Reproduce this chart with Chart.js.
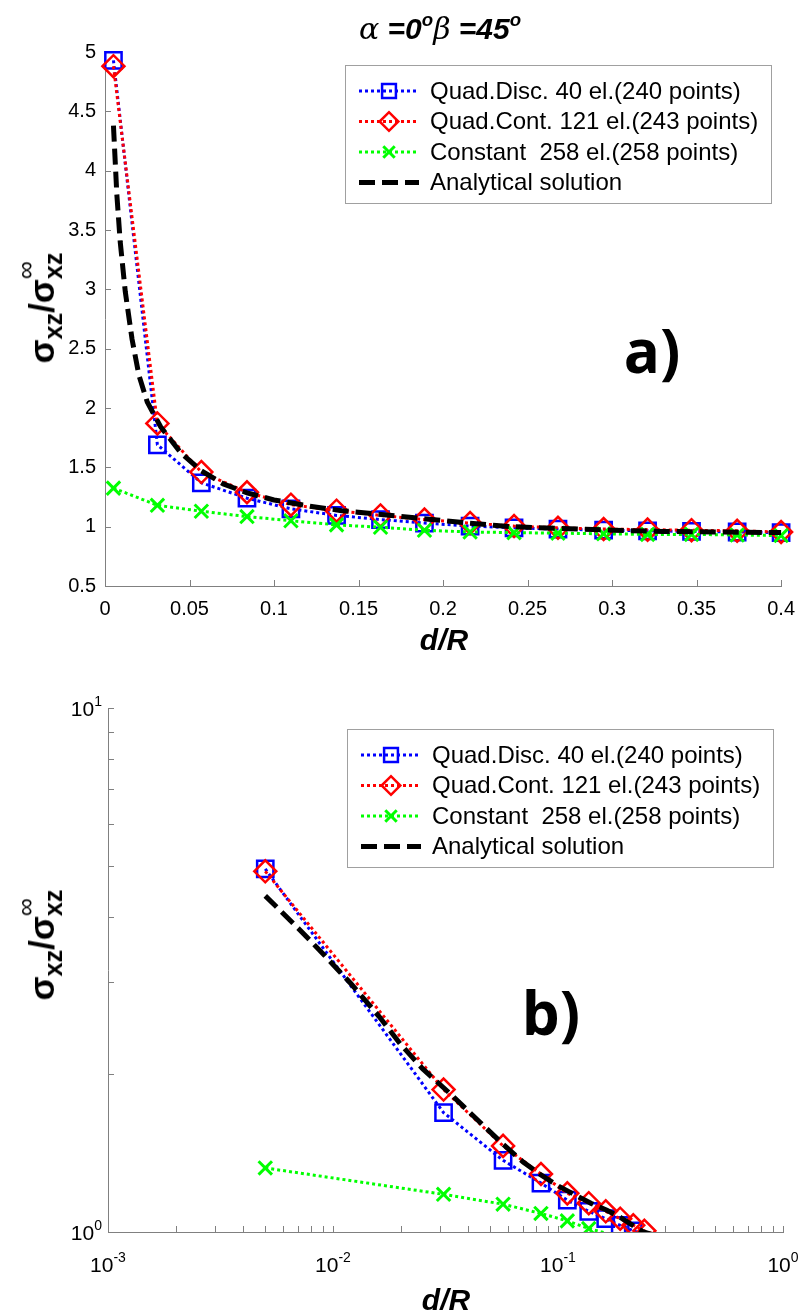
<!DOCTYPE html>
<html>
<head>
<meta charset="utf-8">
<script src="https://cdn.jsdelivr.net/npm/chart.js@4.4.1/dist/chart.umd.min.js"></script>
<style>
  body { margin: 0; background: #fff; }
  #page { position: relative; width: 806px; height: 1316px; overflow: hidden; font-family: "Liberation Sans", Arial, sans-serif; }
  canvas { position: absolute; left: 0; }
  #chartTop { top: 0; }
  #chartLog { top: 660px; }
  .txt { position: absolute; white-space: nowrap; color: #000; line-height: 1; }
  .title { left: 359px; top: 11px; font: italic bold 30px "Liberation Sans", Arial, sans-serif; }
  .title .gr { font-family: "DejaVu Serif", serif; font-weight: normal; }
  .title sup { font-size: 0.62em; vertical-align: 0.7em; line-height: 0; }
  .xlab { font: italic bold 30px "Liberation Sans", Arial, sans-serif; transform: translate(-50%, -50%); }
  .ylab { font: bold 35px "Liberation Sans", Arial, sans-serif; transform: translate(-50%, -50%) rotate(-90deg); }
  .ylab .sd { font-size: 0.72em; position: relative; top: 0.3em; }
  .ylab .sp { font-size: 0.72em; position: relative; top: 0.3em; }
  .ylab .inf { position: absolute; left: 0; top: -1.1em; font-weight: normal; }
  .panel { font: bold 60px "Open Sans", sans-serif; transform: translate(-50%, -50%); }
</style>
</head>
<body>
<div id="page">
  <canvas id="chartTop" width="806" height="660"></canvas>
  <canvas id="chartLog" width="806" height="656"></canvas>

  <div class="txt title"><span class="gr">α</span> =0<sup>o</sup><span class="gr">β</span> =45<sup>o</sup></div>
  <div class="txt ylab" style="left:42px; top:308px;">σ<span class="sd">xz</span>/σ<span class="sp"><span class="inf">∞</span>xz</span></div>
  <div class="txt panel" style="left:652px; top:350px;">a)</div>
  <div class="txt xlab" style="left:444px; top:640px;">d/R</div>

  <div class="txt ylab" style="left:42px; top:945px;">σ<span class="sd">xz</span>/σ<span class="sp"><span class="inf">∞</span>xz</span></div>
  <div class="txt panel" style="left:551px; top:1012px;">b)</div>
  <div class="txt xlab" style="left:446px; top:1300px;">d/R</div>
</div>

<script>
// d/R positions of the numerical solutions
const dR = [0.005, 0.031, 0.057, 0.084, 0.110, 0.137, 0.163, 0.189, 0.216, 0.242, 0.268, 0.295, 0.321, 0.347, 0.374, 0.400];
const quadDisc = [4.93, 1.69, 1.37, 1.24, 1.15, 1.095, 1.06, 1.03, 1.005, 0.99, 0.98, 0.97, 0.965, 0.96, 0.955, 0.95];
const quadCont = [4.88, 1.87, 1.46, 1.29, 1.185, 1.135, 1.095, 1.06, 1.03, 1.005, 0.99, 0.98, 0.975, 0.97, 0.965, 0.955];
const constant = [1.325, 1.18, 1.13, 1.085, 1.05, 1.015, 0.995, 0.97, 0.955, 0.95, 0.945, 0.94, 0.935, 0.935, 0.93, 0.925];

// analytical curve
const dRExact = [0.005, 0.007, 0.009, 0.012, 0.016, 0.02, 0.025, 0.033, 0.045, 0.057, 0.07, 0.084, 0.1, 0.12, 0.14, 0.165, 0.19, 0.215, 0.24, 0.27, 0.3, 0.33, 0.36, 0.4];
const exact = [4.38, 3.8, 3.4, 2.98, 2.58, 2.28, 2.05, 1.84, 1.62, 1.47, 1.36, 1.285, 1.225, 1.175, 1.135, 1.1, 1.065, 1.03, 1.0, 0.985, 0.97, 0.96, 0.955, 0.95];

const seriesNames = ['Quad.Disc. 40 el.(240 points)', 'Quad.Cont. 121 el.(243 points)', 'Constant  258 el.(258 points)', 'Analytical solution'];

// ticks
const linXTicks = [0, 0.05, 0.1, 0.15, 0.2, 0.25, 0.3, 0.35, 0.4];
const linYTicks = [0.5, 1, 1.5, 2, 2.5, 3, 3.5, 4, 4.5, 5];
const logXTicks = [0.001, 0.01, 0.1, 1];
const logXExp = ['-3', '-2', '-1', '0'];
const logYTicks = [1, 10];
const logYExp = ['0', '1'];
const logMinor = [2, 3, 4, 5, 6, 7, 8, 9];

const fontFamily = '"Liberation Sans", Arial, Helvetica, sans-serif';
const axisColor = '#808080';
const fmt = v => String(Math.round(v * 100) / 100);

function withMinor(decades) {
    const out = [];
    decades.forEach((d, i) => {
        out.push(d);
        if (i < decades.length - 1) logMinor.forEach(m => out.push(d * m));
    });
    return out;
}

const styles = [
    { color: '#0000ff', dash: [3, 3], width: 3, marker: 'rect', radius: 11.5, mWidth: 2.5, order: 3 },
    { color: '#ff0000', dash: [3, 3], width: 3, marker: 'rectRot', radius: 11, mWidth: 2.5, order: 2 },
    { color: '#00ff00', dash: [3, 3], width: 3, marker: 'crossRot', radius: 9.5, mWidth: 3, order: 1 },
    { color: '#000000', dash: [16, 7], width: 5, marker: false, radius: 0, mWidth: 0, order: 0 }
];

function buildDatasets(isLog) {
    const pts = (xs, ys) => xs.map((x, i) => ({ x: x, y: ys[i] }));
    const series = [pts(dR, quadDisc), pts(dR, quadCont), pts(dR, constant), pts(dRExact, exact)];
    return series.map((data, i) => {
        const s = styles[i];
        return {
            label: seriesNames[i],
            data: data,
            showLine: true,
            borderColor: s.color,
            borderWidth: s.width,
            borderDash: s.dash,
            borderCapStyle: 'butt',
            pointStyle: s.marker || 'circle',
            pointRadius: isLog ? (ctx => (ctx.raw && ctx.raw.y < 1 ? 0 : s.radius)) : s.radius,
            pointBorderWidth: s.mWidth,
            pointBorderColor: s.color,
            pointBackgroundColor: 'rgba(0,0,0,0)',
            clip: isLog ? undefined : false,
            order: s.order
        };
    });
}

// MATLAB style inward tick marks
const inwardTicks = {
    id: 'inwardTicks',
    beforeDatasetsDraw(chart, args, o) {
        const { ctx, chartArea: a, scales } = chart;
        ctx.save();
        ctx.strokeStyle = axisColor;
        ctx.lineWidth = 1;
        ctx.beginPath();
        o.x.forEach(v => {
            const px = Math.round(scales.x.getPixelForValue(v)) + 0.5;
            ctx.moveTo(px, a.bottom);
            ctx.lineTo(px, a.bottom - o.len);
        });
        o.y.forEach(v => {
            const py = Math.round(scales.y.getPixelForValue(v)) + 0.5;
            ctx.moveTo(a.left, py);
            ctx.lineTo(a.left + o.len, py);
        });
        ctx.stroke();
        ctx.restore();
    }
};

// 10^n tick labels for the log axes
const powerLabels = {
    id: 'powerLabels',
    afterDraw(chart, args, o) {
        if (!o.enabled) return;
        const { ctx, chartArea: a, scales } = chart;
        const base = '21px ' + fontFamily;
        const sup = '14px ' + fontFamily;
        ctx.save();
        ctx.fillStyle = '#000';
        ctx.textBaseline = 'alphabetic';
        ctx.textAlign = 'left';
        logXTicks.forEach((v, i) => {
            const px = scales.x.getPixelForValue(v);
            ctx.font = base;
            const w1 = ctx.measureText('10').width;
            ctx.font = sup;
            const w2 = ctx.measureText(logXExp[i]).width;
            const x0 = px - (w1 + w2) / 2;
            ctx.font = base;
            ctx.fillText('10', x0, a.bottom + 40);
            ctx.font = sup;
            ctx.fillText(logXExp[i], x0 + w1, a.bottom + 30);
        });
        logYTicks.forEach((v, i) => {
            const py = scales.y.getPixelForValue(v);
            ctx.font = sup;
            const w2 = ctx.measureText(logYExp[i]).width;
            ctx.font = base;
            const w1 = ctx.measureText('10').width;
            const x1 = a.left - 6;
            ctx.fillText('10', x1 - w2 - w1, py + 8);
            ctx.font = sup;
            ctx.fillText(logYExp[i], x1 - w2, py - 2);
        });
        ctx.restore();
    }
};

// MATLAB style legend: line sample with marker
const legendBox = {
    id: 'legendBox',
    afterDraw(chart, args, o) {
        const { ctx, chartArea: a } = chart;
        const w = 426, h = 138;
        const x0 = Math.round(a.right - o.right - w), y0 = Math.round(a.top + o.top);
        ctx.save();
        ctx.fillStyle = '#fff';
        ctx.fillRect(x0, y0, w, h);
        ctx.strokeStyle = '#a0a0a0';
        ctx.lineWidth = 1;
        ctx.strokeRect(x0 + 0.5, y0 + 0.5, w, h);
        ctx.font = '24px ' + fontFamily;
        ctx.textBaseline = 'middle';
        styles.forEach((s, i) => {
            const y = y0 + 26 + i * 30.5;
            ctx.setLineDash(s.dash);
            ctx.lineCap = 'butt';
            ctx.strokeStyle = s.color;
            ctx.lineWidth = s.width;
            ctx.beginPath();
            ctx.moveTo(x0 + 14, y);
            ctx.lineTo(x0 + 74, y);
            ctx.stroke();
            ctx.setLineDash([]);
            if (s.marker) {
                ctx.fillStyle = 'rgba(0,0,0,0)';
                ctx.lineWidth = s.mWidth;
                Chart.helpers.drawPoint(ctx, { pointStyle: s.marker, radius: s.radius * 0.85, borderWidth: s.mWidth, rotation: 0 }, x0 + 44, y);
            }
            ctx.fillStyle = '#000';
            ctx.fillText(seriesNames[i], x0 + 85, y + 1);
        });
        ctx.restore();
    }
};

const tickFont = { family: fontFamily, size: 20 };

new Chart(document.getElementById('chartTop'), {
    type: 'scatter',
    data: { datasets: buildDatasets(false) },
    options: {
        responsive: false,
        animation: false,
        devicePixelRatio: 1,
        layout: { padding: { top: 52, right: 21, left: 0, bottom: 0 } },
        plugins: {
            legend: { display: false },
            tooltip: { enabled: false },
            inwardTicks: { x: linXTicks, y: linYTicks, len: 6 },
            powerLabels: { enabled: false },
            legendBox: { top: 13, right: 10 }
        },
        scales: {
            x: {
                type: 'linear', min: 0, max: 0.4,
                afterBuildTicks: s => { s.ticks = linXTicks.map(v => ({ value: v })); },
                afterFit: s => { s.height = 74; },
                ticks: { callback: fmt, font: tickFont, color: '#000', padding: 11, maxRotation: 0, autoSkip: false },
                grid: { display: false, drawTicks: false },
                border: { color: axisColor, width: 1 }
            },
            y: {
                type: 'linear', min: 0.5, max: 5,
                afterBuildTicks: s => { s.ticks = linYTicks.map(v => ({ value: v })); },
                afterFit: s => { s.width = 105; },
                ticks: { callback: fmt, font: tickFont, color: '#000', padding: 9, autoSkip: false },
                grid: { display: false, drawTicks: false },
                border: { color: axisColor, width: 1 }
            }
        }
    },
    plugins: [inwardTicks, powerLabels, legendBox]
});

new Chart(document.getElementById('chartLog'), {
    type: 'scatter',
    data: { datasets: buildDatasets(true) },
    options: {
        responsive: false,
        animation: false,
        devicePixelRatio: 1,
        layout: { padding: { top: 48, right: 23, left: 0, bottom: 0 } },
        plugins: {
            legend: { display: false },
            tooltip: { enabled: false },
            inwardTicks: { x: withMinor(logXTicks), y: withMinor(logYTicks), len: 6 },
            powerLabels: { enabled: true },
            legendBox: { top: 21, right: 10 }
        },
        scales: {
            x: {
                type: 'logarithmic', min: 0.001, max: 1,
                afterFit: s => { s.height = 84; },
                ticks: { display: false },
                grid: { display: false, drawTicks: false },
                border: { color: axisColor, width: 1 }
            },
            y: {
                type: 'logarithmic', min: 1, max: 10,
                afterFit: s => { s.width = 108; },
                ticks: { display: false },
                grid: { display: false, drawTicks: false },
                border: { color: axisColor, width: 1 }
            }
        }
    },
    plugins: [inwardTicks, powerLabels, legendBox]
});
</script>
</body>
</html>
